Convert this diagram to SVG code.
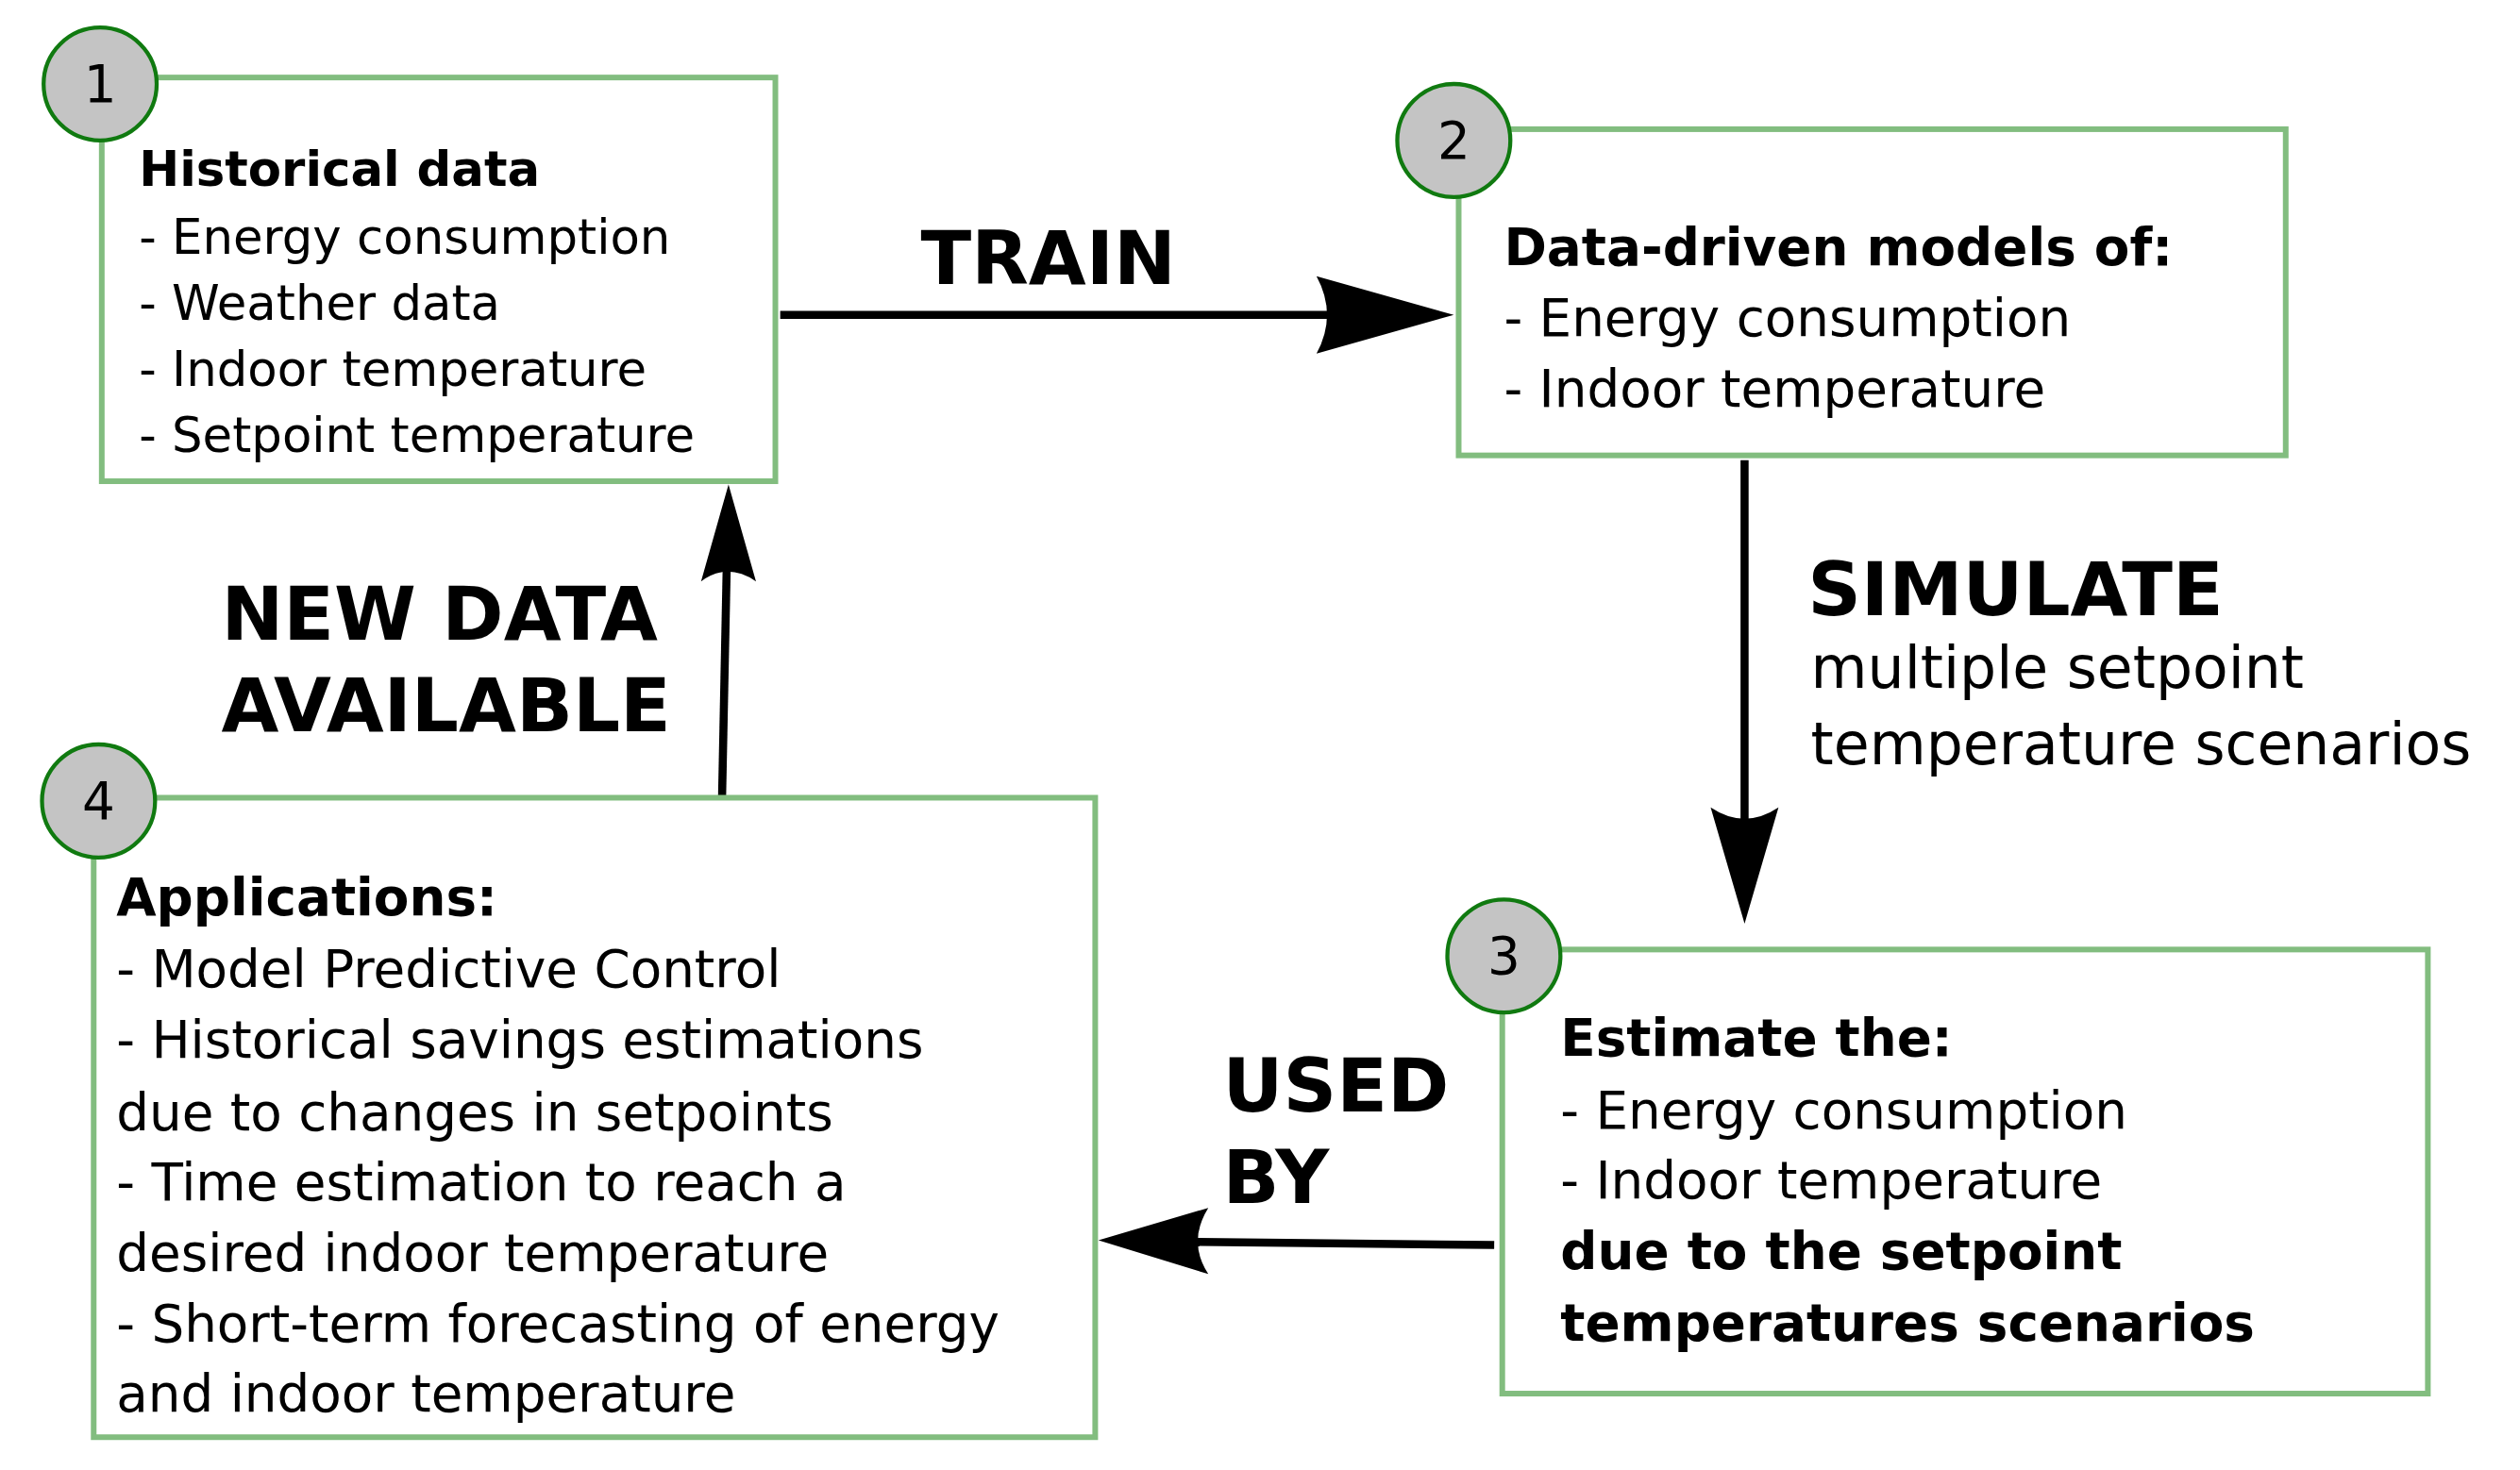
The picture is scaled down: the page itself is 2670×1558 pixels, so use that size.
<svg xmlns="http://www.w3.org/2000/svg" width="2670" height="1558" viewBox="0 0 2670 1558">
<style>
.box{fill:#fff;stroke:#82bd7f;stroke-width:3.5}
.num{fill:#c4c4c4;stroke:#107a10;stroke-width:2.5}
text{font-family:"DejaVu Sans",sans-serif;fill:#000}
.n{font-size:32px;text-anchor:middle}
.t30{font-size:30px}
.t32{font-size:32px}
.b{font-weight:bold}
.lab{font-size:46px;font-weight:bold}
.sub{font-size:36px}
.ln{stroke:#000;stroke-width:5;fill:none}
.hd{fill:#000}
</style>
<rect width="2670" height="1558" fill="#fff"/>
<g transform="scale(1.7115)">
<g id="connectors">
<line class="ln" x1="483" y1="195" x2="840" y2="195"/>
<path class="hd" d="M900,195 L815,171 Q828,195 815,219 Z"/>
<line class="ln" x1="1080" y1="285" x2="1080" y2="530"/>
<path class="hd" d="M1080,572 L1059,500 Q1080,514 1101,500 Z"/>
<line class="ln" x1="925" y1="771" x2="735" y2="769"/>
<path class="hd" d="M680,768 L748,748 Q735,769 748,789 Z"/>
<line class="ln" x1="447" y1="494" x2="450" y2="345"/>
<path class="hd" d="M451,300 L434,360 Q450,348 468,360 Z"/>
</g>
<g id="labels">
<text class="lab" x="570" y="176">TRAIN</text>
<text class="lab" x="1119" y="381">SIMULATE</text>
<text class="sub" x="1121" y="426">multiple setpoint</text>
<text class="sub" x="1121" y="473">temperature scenarios</text>
<text class="lab" x="137" y="396">NEW DATA</text>
<text class="lab" x="137" y="453">AVAILABLE</text>
<text class="lab" x="757" y="688">USED</text>
<text class="lab" x="757" y="745">BY</text>
</g>
<g id="node1">
<rect class="box" x="63" y="48" width="417" height="250"/>
<circle class="num" cx="62" cy="52" r="35"/>
<text class="n" x="62" y="63">1</text>
<text class="t30" x="86"><tspan class="b" x="86" y="115">Historical data</tspan><tspan x="86" y="157">- Energy consumption</tspan><tspan x="86" y="198">- Weather data</tspan><tspan x="86" y="239">- Indoor temperature</tspan><tspan x="86" y="280">- Setpoint temperature</tspan></text>
</g>
<g id="node2">
<rect class="box" x="903" y="80" width="512" height="202"/>
<circle class="num" cx="900" cy="87" r="35"/>
<text class="n" x="900" y="98">2</text>
<text class="t32"><tspan class="b" x="931" y="164">Data-driven models of:</tspan><tspan x="931" y="208">- Energy consumption</tspan><tspan x="931" y="252">- Indoor temperature</tspan></text>
</g>
<g id="node3">
<rect class="box" x="930" y="588" width="573" height="275"/>
<circle class="num" cx="931" cy="592" r="35"/>
<text class="n" x="931" y="603">3</text>
<text class="t32"><tspan class="b" x="966" y="654">Estimate the:</tspan><tspan x="966" y="699">- Energy consumption</tspan><tspan x="966" y="742">- Indoor temperature</tspan><tspan class="b" x="966" y="786">due to the setpoint</tspan><tspan class="b" x="966" y="830">temperatures scenarios</tspan></text>
</g>
<g id="node4">
<rect class="box" x="58" y="494" width="620" height="396"/>
<circle class="num" cx="61" cy="496" r="35"/>
<text class="n" x="61" y="507">4</text>
<text class="t32"><tspan class="b" x="72" y="567">Applications:</tspan><tspan x="72" y="611">- Model Predictive Control</tspan><tspan x="72" y="655">- Historical savings estimations</tspan><tspan x="72" y="700">due to changes in setpoints</tspan><tspan x="72" y="743">- Time estimation to reach a</tspan><tspan x="72" y="787">desired indoor temperature</tspan><tspan x="72" y="831">- Short-term forecasting of energy</tspan><tspan x="72" y="874">and indoor temperature</tspan></text>
</g>
</g>
</svg>
